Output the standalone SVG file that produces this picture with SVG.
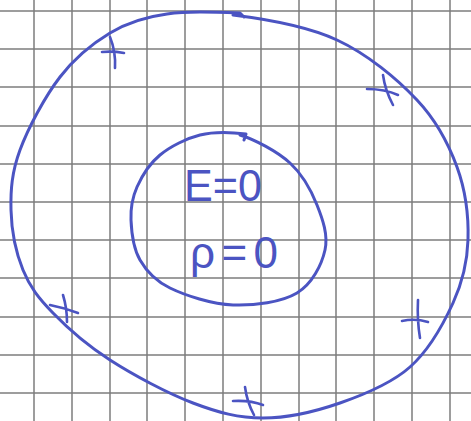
<svg xmlns="http://www.w3.org/2000/svg" width="471" height="421" viewBox="0 0 471 421">
<style>
.grid line{stroke:#7c7c7c;stroke-width:1.5}
.pen{fill:none;stroke:#4b54c2;stroke-width:3;stroke-linecap:round;stroke-linejoin:round}
.plus{fill:none;stroke:#4b54c2;stroke-width:2.6;stroke-linecap:round}
.lbl{font-family:"Liberation Sans",Arial,sans-serif;font-size:44px;fill:#4b54c2}
</style>
<rect width="471" height="421" fill="#ffffff"/>
<g class="grid">
<line x1="34" y1="0" x2="34" y2="421"/><line x1="72" y1="0" x2="72" y2="421"/><line x1="110" y1="0" x2="110" y2="421"/><line x1="147" y1="0" x2="147" y2="421"/><line x1="185" y1="0" x2="185" y2="421"/><line x1="223" y1="0" x2="223" y2="421"/><line x1="261" y1="0" x2="261" y2="421"/><line x1="299" y1="0" x2="299" y2="421"/><line x1="336" y1="0" x2="336" y2="421"/><line x1="374" y1="0" x2="374" y2="421"/><line x1="412" y1="0" x2="412" y2="421"/><line x1="450" y1="0" x2="450" y2="421"/>
<line x1="0" y1="11" x2="471" y2="11"/><line x1="0" y1="49" x2="471" y2="49"/><line x1="0" y1="87" x2="471" y2="87"/><line x1="0" y1="126" x2="471" y2="126"/><line x1="0" y1="164" x2="471" y2="164"/><line x1="0" y1="202" x2="471" y2="202"/><line x1="0" y1="240" x2="471" y2="240"/><line x1="0" y1="278" x2="471" y2="278"/><line x1="0" y1="317" x2="471" y2="317"/><line x1="0" y1="355" x2="471" y2="355"/><line x1="0" y1="393" x2="471" y2="393"/>
</g>
<g id="outer-sphere">
<path class="pen" d="M233,15 C261.3,18.5 306.3,25.7 337,40 C367.7,54.3 397,78.8 417,100 C437,121.2 448.5,143.7 457,167 C465.5,190.3 468.7,217.3 468,240 C467.3,262.7 462.7,281.8 453,303 C443.3,324.2 428.8,350.3 410,367 C391.2,383.7 364.5,394.5 340,403 C315.5,411.5 287.5,418 263,418 C238.5,418 218.5,412.7 193,403 C167.5,393.3 133.3,375 110,360 C86.7,345 67.5,328 53,313 C38.5,298 30,287.2 23,270 C16,252.8 11.5,230 11,210 C10.5,190 11.8,172.2 20,150 C28.2,127.8 45,96.5 60,77 C75,57.5 92.2,43.7 110,33 C127.8,22.3 146.5,16.7 167,14 C187.5,11.3 210,12 240,13 L244,17"/>
</g>
<g id="inner-sphere">
<path class="pen" d="M240,135 C255,139.7 277.2,151.3 290,163 C302.8,174.7 311.2,190.5 317,205 C322.8,219.5 328.3,235.3 325,250 C321.7,264.7 312.3,283.8 297,293 C281.7,302.2 254.2,305.8 233,305 C211.8,304.2 185.5,295.5 170,288 C154.5,280.5 146.5,271.3 140,260 C133.5,248.7 131.5,232.2 131,220 C130.5,207.8 132.2,197.8 137,187 C141.8,176.2 149.5,163.7 160,155 C170.5,146.3 186.7,138.3 200,135 C213.3,131.7 230,132 246,134 L244,140"/>
</g>
<g id="charges">
<path class="plus" d="M110,37 Q116,52 115,68 M102,52 Q113,51 124,53"/>
<path class="plus" d="M383,75 Q385,90 393,105 M367,89 Q385,89 398,95"/>
<path class="plus" d="M63,295 Q67,308 67,322 M50,305 Q65,308 78,313"/>
<path class="plus" d="M418,300 Q417,320 420,338 M402,321 Q415,318 428,322"/>
<path class="plus" d="M245,387 Q247,402 254,415 M233,401 Q250,400 263,405"/>
</g>
<g id="labels">
<text class="lbl" x="184" y="201" textLength="78" lengthAdjust="spacingAndGlyphs">E=0</text>
<text class="lbl" x="190" y="268" textLength="88" lengthAdjust="spacing">ρ=0</text>
</g>
</svg>
